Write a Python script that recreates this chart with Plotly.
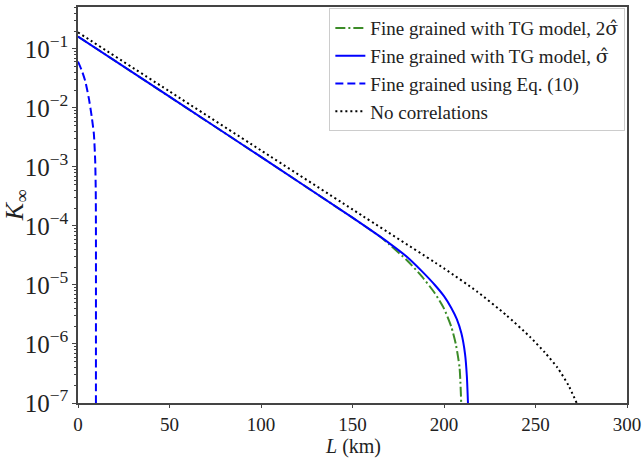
import plotly.graph_objects as go

# Data (L in km, log10 of K_infinity)
L_tg2 = [0, 50, 100, 150, 165, 170, 180, 188, 195, 200, 204, 206.5, 208.5, 209.4]
logK_tg2 = [-0.79, -1.81, -2.83, -3.86, -4.18, -4.31, -4.59, -4.86, -5.14, -5.40, -5.71, -6.01, -6.40, -7.0]

L_tg = [0, 50, 100, 150, 170, 180, 188, 195, 200, 204, 207, 209.5, 211.5, 212.5, 213.1]
logK_tg = [-0.79, -1.81, -2.83, -3.86, -4.29, -4.53, -4.77, -5.00, -5.19, -5.39, -5.58, -5.82, -6.17, -6.55, -7.0]

L_eq10 = [0, 2, 4, 6, 7.5, 8.7, 9.4, 9.7, 9.8, 9.8]
logK_eq10 = [-1.215, -1.36, -1.55, -1.85, -2.15, -2.45, -2.9, -3.4, -4.0, -7.0]

L_nocorr = [0, 50, 100, 150, 200, 218, 234, 247, 255, 262, 268, 272.5]
logK_nocorr = [-0.72, -1.72, -2.72, -3.72, -4.72, -5.11, -5.51, -5.88, -6.14, -6.40, -6.70, -7.0]

x_ticks = [0, 50, 100, 150, 200, 250, 300]

hat = "<span style='font-family:DejaVu Serif'>σ̂</span>"
names = [
    "Fine grained with TG model, 2" + hat,
    "Fine grained with TG model, " + hat,
    "Fine grained using Eq. (10)",
    "No correlations",
]

def k(vals):
    return [10 ** v for v in vals]

fig = go.Figure()
fig.add_trace(go.Scatter(x=L_tg2, y=k(logK_tg2), mode="lines", name=names[0],
                         line=dict(color="#3c8c28", width=2, dash="10px,3px,2px,3px", shape="spline", smoothing=0.6)))
fig.add_trace(go.Scatter(x=L_tg, y=k(logK_tg), mode="lines", name=names[1],
                         line=dict(color="#0000ff", width=2, shape="spline", smoothing=0.6)))
fig.add_trace(go.Scatter(x=L_eq10, y=k(logK_eq10), mode="lines", name=names[2],
                         line=dict(color="#0000ff", width=2, dash="8px,4px", shape="spline", smoothing=0.5)))
fig.add_trace(go.Scatter(x=L_nocorr, y=k(logK_nocorr), mode="lines", name=names[3],
                         line=dict(color="black", width=2, dash="2px,3px", shape="spline", smoothing=0.6)))

font_family = "Liberation Serif"
fig.update_layout(
    width=642, height=458,
    margin=dict(l=78, r=15, t=7, b=55),
    plot_bgcolor="white", paper_bgcolor="white",
    font=dict(family=font_family, size=20, color="#222"),
    showlegend=True,
    legend=dict(x=0.997, y=0.997, xanchor="right", yanchor="top",
                bgcolor="white", bordercolor="#cccccc", borderwidth=1,
                font=dict(size=19, family=font_family), tracegroupgap=0,
                itemwidth=30),
    annotations=[dict(text="<i>L</i> (km)", x=0.5, y=0, xref="paper", yref="paper",
                      xanchor="center", yanchor="top", yshift=-30, showarrow=False,
                      font=dict(size=20, family=font_family, color="#222"))],
)
fig.update_xaxes(
    range=[0, 300], tickvals=x_ticks,
    showgrid=False, zeroline=False, showline=True, mirror=True, automargin=False,
    linecolor="#444", linewidth=1.5, ticks="outside", ticklen=3, tickcolor="#444",
    tickfont=dict(size=19, family=font_family),
)
fig.update_yaxes(
    type="log", range=[-7, -0.29], dtick=1, exponentformat="power",
    showgrid=False, zeroline=False, showline=True, mirror=True, automargin=False,
    linecolor="#444", linewidth=1.5, ticks="outside", ticklen=4, tickcolor="#444",
    minor=dict(ticks="outside", ticklen=2, tickcolor="#444"),
    tickfont=dict(size=20, family=font_family),
    title=dict(text="<i>K</i><sub>∞</sub>", font=dict(size=26, family=font_family), standoff=0),
)

fig.write_html("out.html", config={"displayModeBar": False},
               post_script="document.body.style.margin='0';document.body.style.overflow='hidden';")
